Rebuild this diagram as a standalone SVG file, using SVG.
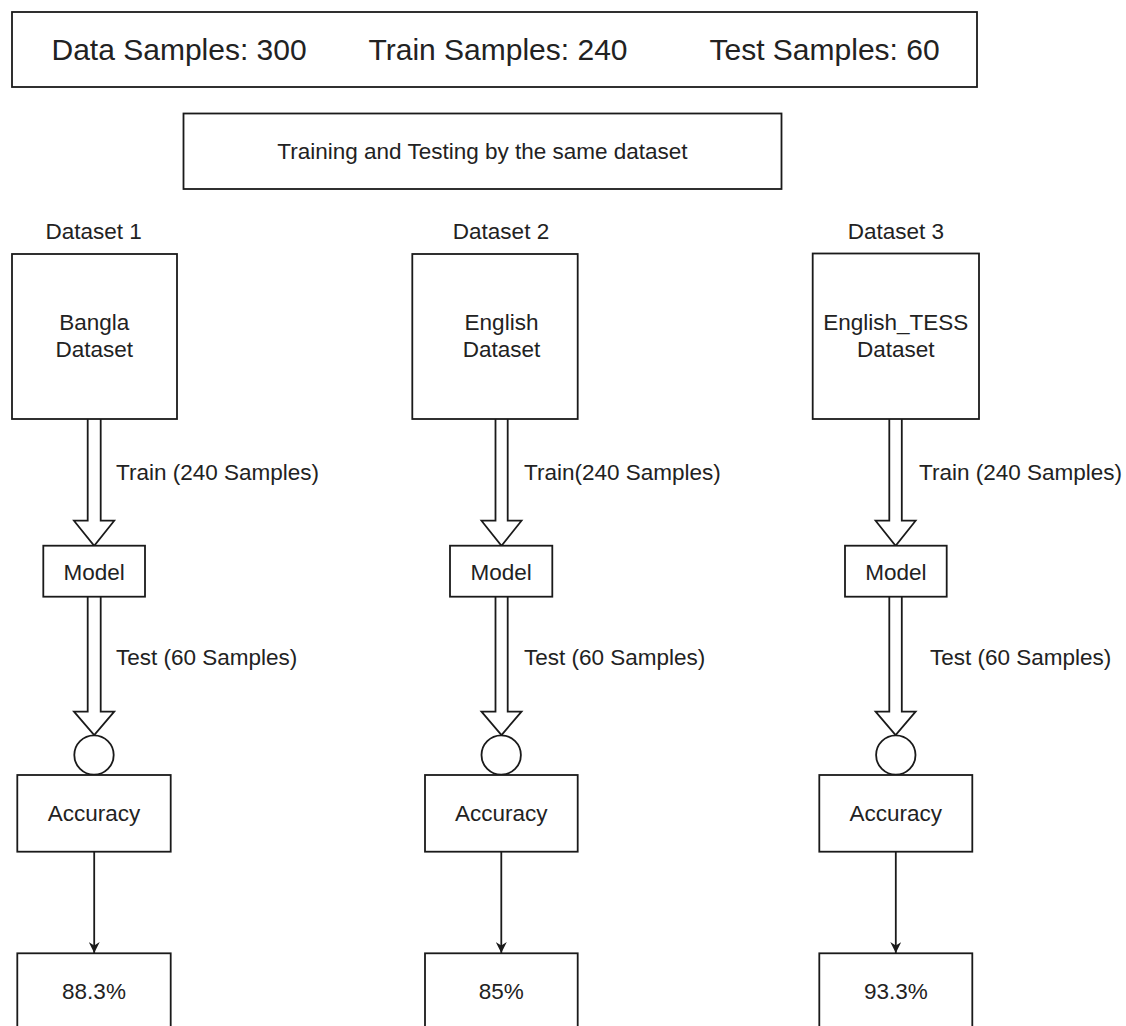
<svg xmlns="http://www.w3.org/2000/svg" width="1126" height="1026" viewBox="0 0 1126 1026">
<style>
  .box{fill:#fff;stroke:#1a1a1a;stroke-width:1.8}
  .t{font-family:"Liberation Sans",Arial,sans-serif;font-size:22.5px;fill:#222}
  .c{text-anchor:middle}
  .big{font-size:30px}
  .flex{fill:#fff;stroke:#1a1a1a;stroke-width:1.8;stroke-linejoin:miter}
  .ln{fill:none;stroke:#1a1a1a;stroke-width:1.8}
</style>
<defs>
  <marker id="arr" markerWidth="12" markerHeight="11" refX="11" refY="5.5" orient="auto" markerUnits="userSpaceOnUse" viewBox="0 0 12 11">
    <path d="M0,0 L11,5.5 L0,11 L3.5,5.5 Z" fill="#1a1a1a"/>
  </marker>
</defs>
<rect width="1126" height="1026" fill="#fff"/>

<g id="summary">
  <rect class="box" x="12" y="12" width="965" height="75"/>
  <text class="t big" x="51.5" y="59.5">Data Samples: 300</text>
  <text class="t big" x="368.5" y="59.5">Train Samples: 240</text>
  <text class="t big" x="709.5" y="59.5">Test Samples: 60</text>
</g>
<g id="title">
  <rect class="box" x="183.5" y="113.5" width="598" height="75.5"/>
  <text class="t c" x="482.5" y="158.5">Training and Testing by the same dataset</text>
</g>

<g id="connectors">
  <path class="flex" d="M87.7,419 L87.7,520.7 L74,520.7 L94.2,545.7 L114.2,520.7 L100.7,520.7 L100.7,419"/>
  <path class="flex" d="M87.7,596.7 L87.7,711.7 L74,711.7 L94.2,735 L114.2,711.7 L100.7,711.7 L100.7,596.7"/>
  <line class="ln" x1="94.2" y1="852" x2="94.2" y2="953" marker-end="url(#arr)"/>
  <text class="t" x="116" y="480">Train (240 Samples)</text>
  <text class="t" x="116" y="665">Test (60 Samples)</text>

  <path class="flex" d="M495.5,419 L495.5,520.7 L481.5,520.7 L501.5,545.7 L521.5,520.7 L507.7,520.7 L507.7,419"/>
  <path class="flex" d="M495.5,596.7 L495.5,711.7 L481.5,711.7 L501.5,735 L521.5,711.7 L507.7,711.7 L507.7,596.7"/>
  <line class="ln" x1="501.3" y1="852" x2="501.3" y2="953" marker-end="url(#arr)"/>
  <text class="t" x="524" y="480">Train(240 Samples)</text>
  <text class="t" x="524" y="665">Test (60 Samples)</text>

  <path class="flex" d="M889.3,419 L889.3,520.7 L875.6,520.7 L895.6,545.7 L915.6,520.7 L901.8,520.7 L901.8,419"/>
  <path class="flex" d="M889.3,596.7 L889.3,711.7 L875.6,711.7 L895.6,735 L915.6,711.7 L901.8,711.7 L901.8,596.7"/>
  <line class="ln" x1="895.8" y1="852" x2="895.8" y2="953" marker-end="url(#arr)"/>
  <text class="t" x="919" y="480">Train (240 Samples)</text>
  <text class="t" x="930" y="665">Test (60 Samples)</text>
</g>

<g id="dataset1">
  <text class="t c" x="93.7" y="239">Dataset 1</text>
  <rect class="box" x="12" y="254" width="165" height="165"/>
  <text class="t c" x="94.3" y="330">Bangla</text>
  <text class="t c" x="94.3" y="356.5">Dataset</text>
</g>
<g id="model1">
  <rect class="box" x="43.3" y="545.7" width="101.7" height="51"/>
  <text class="t c" x="94.2" y="579.5">Model</text>
</g>
<g id="circle1"><circle class="box" cx="94" cy="755" r="19.7"/></g>
<g id="accuracy1">
  <rect class="box" x="17.3" y="775" width="153.4" height="76.7"/>
  <text class="t c" x="94" y="821">Accuracy</text>
</g>
<g id="result1">
  <rect class="box" x="17.3" y="953.3" width="153.4" height="80"/>
  <text class="t c" x="94" y="998.5">88.3%</text>
</g>

<g id="dataset2">
  <text class="t c" x="501" y="239">Dataset 2</text>
  <rect class="box" x="412.3" y="254" width="165.4" height="165"/>
  <text class="t c" x="501.5" y="330">English</text>
  <text class="t c" x="501.5" y="356.5">Dataset</text>
</g>
<g id="model2">
  <rect class="box" x="450" y="545.7" width="102.3" height="51"/>
  <text class="t c" x="501.2" y="579.5">Model</text>
</g>
<g id="circle2"><circle class="box" cx="501.2" cy="755" r="19.7"/></g>
<g id="accuracy2">
  <rect class="box" x="425" y="775" width="152.7" height="76.7"/>
  <text class="t c" x="501.3" y="821">Accuracy</text>
</g>
<g id="result2">
  <rect class="box" x="425" y="953.3" width="152.7" height="80"/>
  <text class="t c" x="501.3" y="998.5">85%</text>
</g>

<g id="dataset3">
  <text class="t c" x="895.8" y="238.5">Dataset 3</text>
  <rect class="box" x="812.7" y="253.5" width="166.3" height="165.5"/>
  <text class="t c" x="895.8" y="330">English_TESS</text>
  <text class="t c" x="895.8" y="356.5">Dataset</text>
</g>
<g id="model3">
  <rect class="box" x="845" y="545.7" width="101.7" height="51"/>
  <text class="t c" x="895.8" y="579.5">Model</text>
</g>
<g id="circle3"><circle class="box" cx="895.8" cy="755" r="19.7"/></g>
<g id="accuracy3">
  <rect class="box" x="819.3" y="775" width="153" height="76.7"/>
  <text class="t c" x="895.8" y="821">Accuracy</text>
</g>
<g id="result3">
  <rect class="box" x="819.3" y="953.3" width="153" height="80"/>
  <text class="t c" x="895.8" y="998.5">93.3%</text>
</g>
</svg>
